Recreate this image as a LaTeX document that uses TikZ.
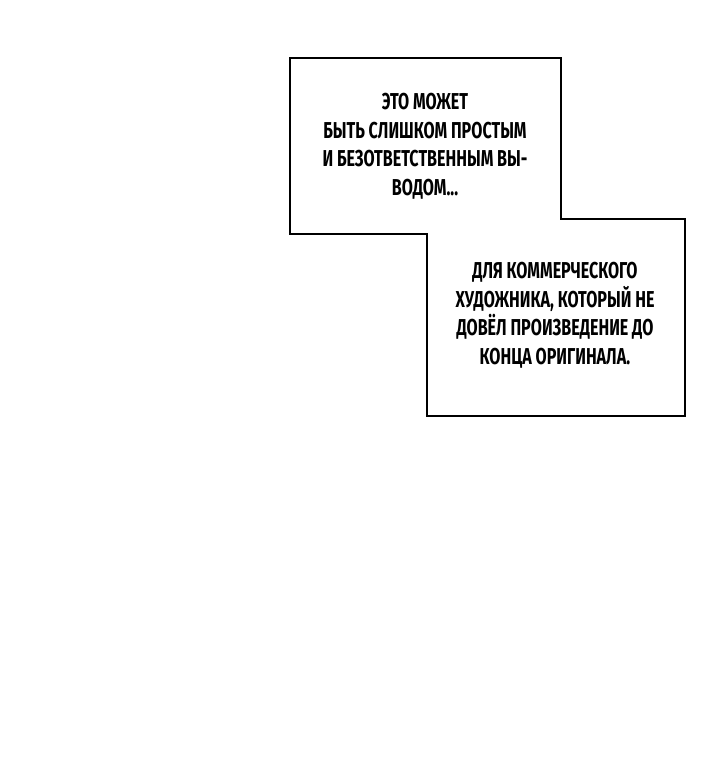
\documentclass[tikz,border=0pt]{standalone}
\usepackage{fontspec}
\setmainfont{Fira Sans}[FakeStretch=0.70]
\usepackage{tikz}
\tikzset{
x=1pt, y=-1pt, % pixel units, y downwards
panel/.style={line width=2.4pt, line join=miter}, % outline of the caption boxes
caption/.style={align=center, font=\fontsize{23}{28.5}\selectfont\bfseries, inner sep=0pt}, % caption text
}
\begin{document}
\begin{tikzpicture}
		\useasboundingbox (0,0) rectangle (720,774);
		\draw[panel] (290,58) -- (561,58) -- (561,219) -- (685,219) -- (685,416)
			-- (427,416) -- (427,234) -- (290,234) -- cycle;
		\node[caption] (first) at (425,146) {ЭТО МОЖЕТ\\БЫТЬ СЛИШКОМ ПРОСТЫМ\\И БЕЗОТВЕТСТВЕННЫМ ВЫ-\\ВОДОМ...};
		\node[caption] (second) at (555,315) {ДЛЯ КОММЕРЧЕСКОГО\\ХУДОЖНИКА, КОТОРЫЙ НЕ\\ДОВЁЛ ПРОИЗВЕДЕНИЕ ДО\\КОНЦА ОРИГИНАЛА.};
	\end{tikzpicture}
\end{document}
